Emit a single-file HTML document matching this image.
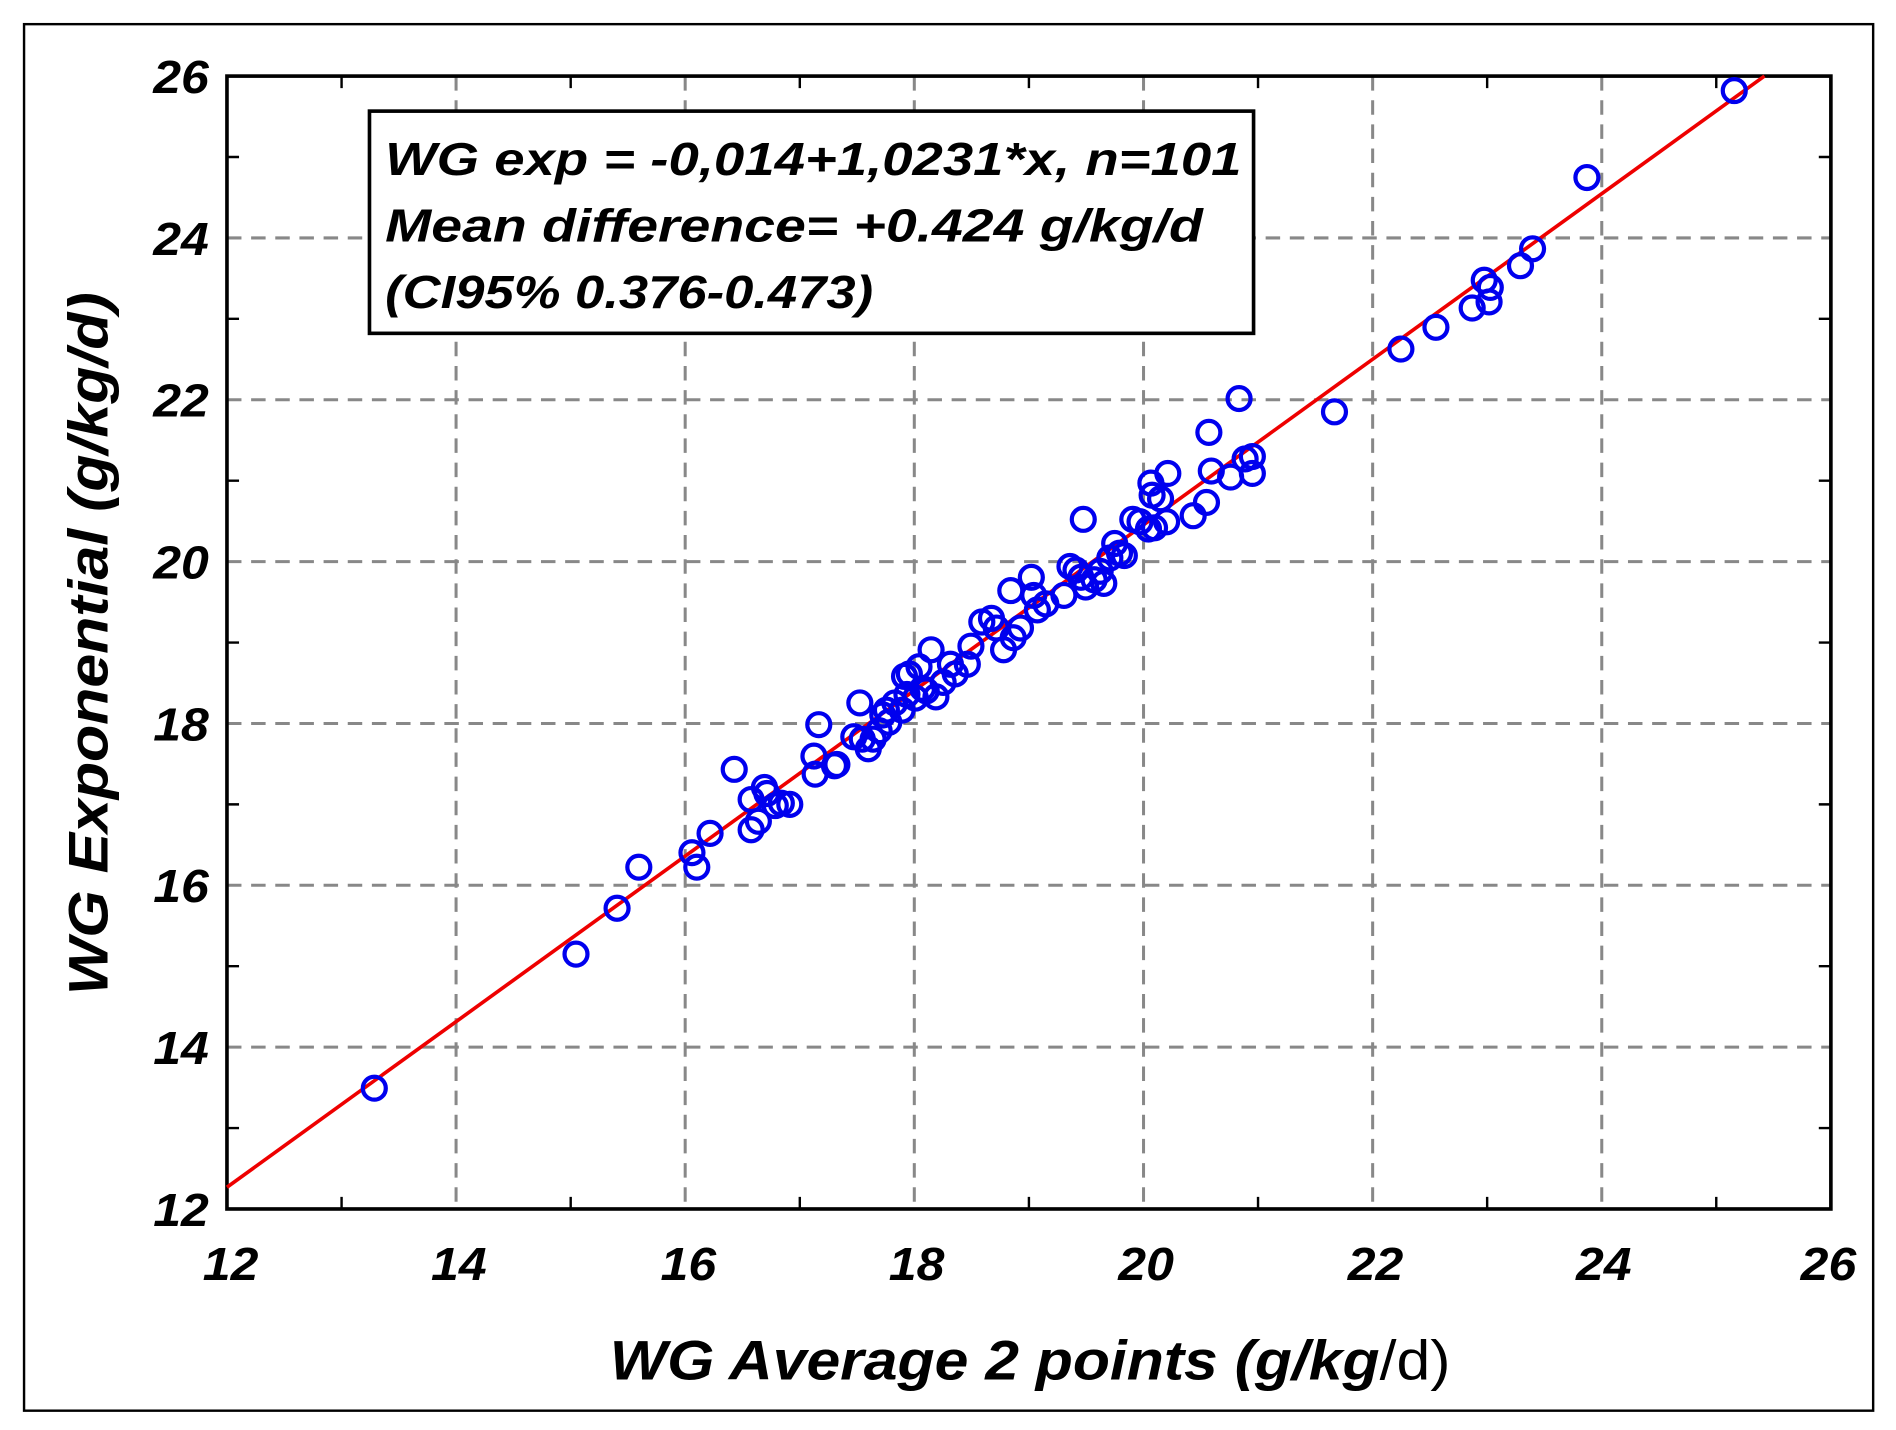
<!DOCTYPE html>
<html><head><style>html,body{margin:0;padding:0;background:#fff}svg{display:block}</style></head><body>
<svg width="1896" height="1430" viewBox="0 0 1568 1184" xmlns="http://www.w3.org/2000/svg" font-family="Liberation Sans, sans-serif" font-weight="bold" font-style="italic">
<rect x="0" y="0" width="1568" height="1184" fill="#fff"/>
<rect x="19" y="20" width="1531" height="1148" fill="none" stroke="#000" stroke-width="2"/>
<g stroke="#888" stroke-width="2.5" stroke-dasharray="12,8">
<line x1="376.7" y1="63" x2="376.7" y2="1001"/><line x1="566.4" y1="63" x2="566.4" y2="1001"/><line x1="756.1" y1="63" x2="756.1" y2="1001"/><line x1="945.9" y1="63" x2="945.9" y2="1001"/><line x1="1135.6" y1="63" x2="1135.6" y2="1001"/><line x1="1325.3" y1="63" x2="1325.3" y2="1001"/>
<line x1="187" y1="197" x2="1515" y2="197"/><line x1="187" y1="331" x2="1515" y2="331"/><line x1="187" y1="465" x2="1515" y2="465"/><line x1="187" y1="599" x2="1515" y2="599"/><line x1="187" y1="733" x2="1515" y2="733"/><line x1="187" y1="867" x2="1515" y2="867"/>
</g>
<g stroke="#000" stroke-width="2">
<path d="M281.9 1001v-10M471.6 1001v-10M661.3 1001v-10M851 1001v-10M1040.7 1001v-10M1230.4 1001v-10M1420.1 1001v-10M281.9 63v10M471.6 63v10M661.3 63v10M851 63v10M1040.7 63v10M1230.4 63v10M1420.1 63v10M187 130h10M187 264h10M187 398h10M187 532h10M187 666h10M187 800h10M187 934h10M1515 130h-10M1515 264h-10M1515 398h-10M1515 532h-10M1515 666h-10M1515 800h-10M1515 934h-10"/>
</g>
<rect x="187" y="63" width="1328" height="938" fill="none" stroke="#000" stroke-width="3"/>
<line x1="187" y1="983" x2="1460" y2="63" stroke="#e00" stroke-width="3"/>
<g fill="none" stroke="#0000ee" stroke-width="3.5">
<circle cx="309" cy="901" r="9.5"/><circle cx="476" cy="790" r="9.5"/><circle cx="510" cy="752" r="9.5"/><circle cx="528" cy="718" r="9.5"/><circle cx="572" cy="706" r="9.5"/><circle cx="576" cy="718" r="9.5"/><circle cx="587" cy="690" r="9.5"/><circle cx="607" cy="637" r="9.5"/><circle cx="621" cy="687" r="9.5"/><circle cx="621" cy="662" r="9.5"/><circle cx="627" cy="680" r="9.5"/><circle cx="632" cy="652" r="9.5"/><circle cx="634" cy="657" r="9.5"/><circle cx="641" cy="667" r="9.5"/><circle cx="653" cy="666" r="9.5"/><circle cx="646" cy="665" r="9.5"/><circle cx="673" cy="626" r="9.5"/><circle cx="674" cy="641" r="9.5"/><circle cx="677" cy="600" r="9.5"/><circle cx="690" cy="634" r="9.5"/><circle cx="692" cy="633" r="9.5"/><circle cx="711" cy="582" r="9.5"/><circle cx="706" cy="610" r="9.5"/><circle cx="713" cy="612" r="9.5"/><circle cx="718" cy="620" r="9.5"/><circle cx="722" cy="612" r="9.5"/><circle cx="727" cy="605" r="9.5"/><circle cx="730" cy="592" r="9.5"/><circle cx="733" cy="588" r="9.5"/><circle cx="735" cy="598" r="9.5"/><circle cx="740" cy="582" r="9.5"/><circle cx="746" cy="588" r="9.5"/><circle cx="748" cy="560" r="9.5"/><circle cx="750" cy="575" r="9.5"/><circle cx="752" cy="558" r="9.5"/><circle cx="757" cy="578" r="9.5"/><circle cx="760" cy="552" r="9.5"/><circle cx="763" cy="570" r="9.5"/><circle cx="766" cy="572" r="9.5"/><circle cx="770" cy="538" r="9.5"/><circle cx="774" cy="577" r="9.5"/><circle cx="780" cy="565" r="9.5"/><circle cx="786" cy="550" r="9.5"/><circle cx="790" cy="558" r="9.5"/><circle cx="800" cy="550" r="9.5"/><circle cx="803" cy="535" r="9.5"/><circle cx="812" cy="515" r="9.5"/><circle cx="820" cy="512" r="9.5"/><circle cx="824" cy="520" r="9.5"/><circle cx="830" cy="538" r="9.5"/><circle cx="836" cy="489" r="9.5"/><circle cx="838" cy="528" r="9.5"/><circle cx="844" cy="520" r="9.5"/><circle cx="853" cy="478" r="9.5"/><circle cx="855" cy="493" r="9.5"/><circle cx="858" cy="505" r="9.5"/><circle cx="865" cy="500" r="9.5"/><circle cx="880" cy="493" r="9.5"/><circle cx="885" cy="469" r="9.5"/><circle cx="890" cy="472" r="9.5"/><circle cx="894" cy="478" r="9.5"/><circle cx="896" cy="430" r="9.5"/><circle cx="898" cy="486" r="9.5"/><circle cx="905" cy="480" r="9.5"/><circle cx="910" cy="473" r="9.5"/><circle cx="913" cy="483" r="9.5"/><circle cx="918" cy="462" r="9.5"/><circle cx="922" cy="450" r="9.5"/><circle cx="926" cy="458" r="9.5"/><circle cx="930" cy="460" r="9.5"/><circle cx="937" cy="430" r="9.5"/><circle cx="943" cy="432" r="9.5"/><circle cx="950" cy="438" r="9.5"/><circle cx="952" cy="400" r="9.5"/><circle cx="953" cy="410" r="9.5"/><circle cx="955" cy="437" r="9.5"/><circle cx="960" cy="413" r="9.5"/><circle cx="965" cy="432" r="9.5"/><circle cx="966" cy="392" r="9.5"/><circle cx="987" cy="427" r="9.5"/><circle cx="998" cy="416" r="9.5"/><circle cx="1000" cy="358" r="9.5"/><circle cx="1002" cy="390" r="9.5"/><circle cx="1018" cy="395" r="9.5"/><circle cx="1025" cy="330" r="9.5"/><circle cx="1030" cy="380" r="9.5"/><circle cx="1036" cy="392" r="9.5"/><circle cx="1036" cy="378" r="9.5"/><circle cx="1104" cy="341" r="9.5"/><circle cx="1159" cy="289" r="9.5"/><circle cx="1188" cy="271" r="9.5"/><circle cx="1218" cy="255" r="9.5"/><circle cx="1228" cy="232" r="9.5"/><circle cx="1232" cy="250" r="9.5"/><circle cx="1233" cy="238" r="9.5"/><circle cx="1258" cy="220" r="9.5"/><circle cx="1268" cy="206" r="9.5"/><circle cx="1313" cy="147" r="9.5"/><circle cx="1435" cy="75" r="9.5"/>
</g>
<rect x="305" y="92" width="732" height="184" fill="#fff" stroke="#000" stroke-width="3"/>
<g font-size="38" fill="#000">
<text x="318" y="145" textLength="709" lengthAdjust="spacingAndGlyphs">WG exp = -0,014+1,0231*x, n=101</text>
<text x="318" y="200" textLength="677" lengthAdjust="spacingAndGlyphs">Mean difference= +0.424 g/kg/d</text>
<text x="318" y="255" textLength="404" lengthAdjust="spacingAndGlyphs">(CI95% 0.376-0.473)</text>
</g>
<g font-size="38" fill="#000" text-anchor="end">
<text x="172" y="77" textLength="46" lengthAdjust="spacingAndGlyphs">26</text><text x="172" y="211" textLength="46" lengthAdjust="spacingAndGlyphs">24</text><text x="172" y="345" textLength="46" lengthAdjust="spacingAndGlyphs">22</text><text x="172" y="479" textLength="46" lengthAdjust="spacingAndGlyphs">20</text><text x="172" y="613" textLength="46" lengthAdjust="spacingAndGlyphs">18</text><text x="172" y="747" textLength="46" lengthAdjust="spacingAndGlyphs">16</text><text x="172" y="881" textLength="46" lengthAdjust="spacingAndGlyphs">14</text><text x="172" y="1015" textLength="46" lengthAdjust="spacingAndGlyphs">12</text>
</g>
<g font-size="38" fill="#000" text-anchor="middle">
<text x="190" y="1060" textLength="46" lengthAdjust="spacingAndGlyphs">12</text><text x="379" y="1060" textLength="46" lengthAdjust="spacingAndGlyphs">14</text><text x="569" y="1060" textLength="46" lengthAdjust="spacingAndGlyphs">16</text><text x="758" y="1060" textLength="46" lengthAdjust="spacingAndGlyphs">18</text><text x="948" y="1060" textLength="46" lengthAdjust="spacingAndGlyphs">20</text><text x="1138" y="1060" textLength="46" lengthAdjust="spacingAndGlyphs">22</text><text x="1327" y="1060" textLength="46" lengthAdjust="spacingAndGlyphs">24</text><text x="1513" y="1060" textLength="46" lengthAdjust="spacingAndGlyphs">26</text>
</g>
<text x="852" y="1142" font-size="46" text-anchor="middle" textLength="696" lengthAdjust="spacingAndGlyphs">WG Average 2 points (g/kg<tspan font-weight="normal" font-style="normal">/d)</tspan></text>
<text transform="translate(88,533) rotate(-90)" font-size="46" text-anchor="middle" textLength="582" lengthAdjust="spacingAndGlyphs">WG Exponential (g/kg/d)</text>
</svg>
</body></html>
